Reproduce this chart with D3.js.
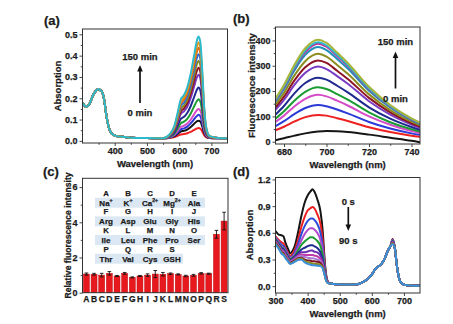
<!DOCTYPE html>
<html>
<head>
<meta charset="utf-8">
<title>Spectra</title>
<script src="https://cdn.jsdelivr.net/npm/d3@7/dist/d3.min.js"></script>
<style>
    body { margin: 0; background: #fff; }
    text { font-family: "Liberation Sans", Arial, Helvetica, sans-serif; font-weight: bold; fill: #1b1b1b; stroke: #1b1b1b; stroke-width: 0.25; }
</style>
</head>
<body>
<svg id="figure" width="453" height="324"></svg>
<script>
// (a) absorption, 0 -> 150 min (UV part is common to all scans)
const wlUvA = [300, 305, 311, 317, 323, 333, 342, 349, 355, 360, 367, 373, 381, 390, 401, 416, 450, 500]
const absUvA = [0.178, 0.168, 0.16, 0.165, 0.178, 0.215, 0.235, 0.243, 0.238, 0.232, 0.195, 0.13, 0.065, 0.035, 0.025, 0.02, 0.015, 0.013]
const wlVisA = [550, 570, 585, 595, 605, 615, 625, 635, 645, 655, 660, 666, 672, 678, 685, 695, 720, 750]
const absVisA = [
    [0.012, 0.014, 0.018, 0.024, 0.030, 0.032, 0.036, 0.042, 0.050, 0.058, 0.060, 0.057, 0.043, 0.026, 0.016, 0.013, 0.012, 0.012],
    [0.012, 0.015, 0.022, 0.033, 0.044, 0.047, 0.053, 0.064, 0.078, 0.092, 0.095, 0.090, 0.066, 0.036, 0.020, 0.014, 0.012, 0.012],
    [0.012, 0.016, 0.025, 0.039, 0.054, 0.059, 0.067, 0.081, 0.099, 0.117, 0.122, 0.115, 0.083, 0.044, 0.022, 0.014, 0.012, 0.012],
    [0.012, 0.017, 0.029, 0.046, 0.065, 0.071, 0.081, 0.098, 0.121, 0.144, 0.150, 0.141, 0.101, 0.052, 0.024, 0.015, 0.013, 0.012],
    [0.012, 0.019, 0.034, 0.057, 0.082, 0.090, 0.103, 0.126, 0.157, 0.187, 0.195, 0.184, 0.130, 0.065, 0.029, 0.016, 0.013, 0.012],
    [0.012, 0.021, 0.041, 0.071, 0.103, 0.113, 0.131, 0.160, 0.200, 0.240, 0.250, 0.235, 0.165, 0.081, 0.033, 0.017, 0.013, 0.012],
    [0.012, 0.023, 0.048, 0.086, 0.126, 0.139, 0.160, 0.198, 0.248, 0.298, 0.310, 0.291, 0.204, 0.098, 0.039, 0.018, 0.013, 0.012],
    [0.012, 0.025, 0.052, 0.094, 0.139, 0.153, 0.177, 0.218, 0.274, 0.329, 0.343, 0.322, 0.225, 0.108, 0.042, 0.019, 0.013, 0.012],
    [0.012, 0.026, 0.056, 0.102, 0.151, 0.166, 0.193, 0.238, 0.299, 0.360, 0.375, 0.352, 0.246, 0.117, 0.045, 0.020, 0.013, 0.012],
    [0.012, 0.027, 0.060, 0.109, 0.163, 0.179, 0.208, 0.257, 0.324, 0.389, 0.406, 0.381, 0.266, 0.126, 0.047, 0.020, 0.014, 0.012],
    [0.012, 0.028, 0.063, 0.117, 0.175, 0.193, 0.224, 0.277, 0.348, 0.419, 0.437, 0.410, 0.286, 0.135, 0.050, 0.021, 0.014, 0.012],
    [0.012, 0.029, 0.066, 0.123, 0.184, 0.203, 0.236, 0.292, 0.368, 0.443, 0.462, 0.434, 0.302, 0.142, 0.053, 0.021, 0.014, 0.012],
    [0.012, 0.030, 0.070, 0.130, 0.195, 0.215, 0.250, 0.310, 0.390, 0.470, 0.490, 0.460, 0.320, 0.150, 0.055, 0.022, 0.014, 0.012]
]
const coloursA = ['#ee2020', '#151515', '#2b3ad6', '#d84bc8', '#1a9c33', '#1f2a8f', '#7a36c0', '#8e1424', '#8c8c1e', '#2f6fd8', '#d2691e', '#f0930e', '#2bb9cc']

// (b) fluorescence, 0 -> 150 min
const wlB = [676, 680, 685, 690, 696, 700, 705, 710, 720, 730, 740, 744]
const fluoB = [
    [6, 14, 24, 33, 40, 42, 41, 38, 28, 16, 4, -2],
    [45, 59, 80, 97, 106, 103, 93, 82, 57, 38, 24, 20],
    [61, 81, 110, 133, 145, 140, 127, 112, 78, 52, 33, 27],
    [78, 103, 140, 169, 185, 179, 162, 143, 100, 67, 42, 34],
    [91, 120, 163, 197, 215, 208, 188, 166, 116, 77, 49, 40],
    [107, 141, 192, 232, 253, 245, 221, 195, 136, 91, 58, 47],
    [126, 165, 225, 272, 297, 287, 259, 229, 160, 107, 68, 55],
    [136, 178, 243, 294, 321, 311, 280, 248, 173, 116, 73, 60],
    [147, 193, 263, 318, 347, 336, 303, 268, 187, 125, 79, 65],
    [159, 208, 283, 343, 374, 362, 327, 289, 201, 135, 85, 70],
    [164, 215, 293, 354, 387, 375, 338, 299, 208, 139, 88, 72],
    [167, 219, 297, 360, 393, 380, 343, 303, 211, 141, 90, 73],
    [171, 224, 305, 369, 403, 390, 352, 311, 217, 145, 92, 75]
]
const coloursB = ['#151515', '#ee2020', '#2b3ad6', '#d64cc8', '#1a9c33', '#1f2a8f', '#7a3cc4', '#8e1424', '#8c8c1e', '#1f8fb8', '#c62a9a', '#2bb9cc', '#a8b43a']

// (c) selectivity
const analytes = ['A', 'B', 'C', 'D', 'E', 'F', 'G', 'H', 'I', 'J', 'K', 'L', 'M', 'N', 'O', 'P', 'Q', 'R', 'S']
const relIntensity = [1.06, 1.05, 1.0, 1.1, 0.95, 1.1, 0.87, 0.95, 1.0, 1.06, 1.05, 1.08, 1.04, 0.95, 0.99, 1.1, 1.08, 3.32, 4.07]
const relError = [0.06, 0.05, 0.1, 0.1, 0.03, 0.05, 0.03, 0.03, 0.07, 0.2, 0.1, 0.04, 0.03, 0.04, 0.05, 0.04, 0.03, 0.22, 0.5]
const keyLetters = [['A', 'B', 'C', 'D', 'E'], ['F', 'G', 'H', 'I', 'J'], ['K', 'L', 'M', 'N', 'O'], ['P', 'Q', 'R', 'S']]
const keyNames = [['Na+', 'K+', 'Ca2+', 'Mg2+', 'Ala'], ['Arg', 'Asp', 'Glu', 'Gly', 'His'], ['Ile', 'Leu', 'Phe', 'Pro', 'Ser'], ['Thr', 'Val', 'Cys', 'GSH']]

// (d) absorption, 0 -> 90 s
const wlUvD = [300, 310, 320, 325, 330, 340, 345, 350, 360, 370, 380, 390, 400, 410, 415, 420, 430, 440, 447, 453, 458, 463, 470]
const absUvD = [
    [0.62, 0.58, 0.57, 0.56, 0.50, 0.41, 0.37, 0.38, 0.45, 0.60, 0.78, 0.93, 1.02, 1.07, 1.09, 1.07, 0.98, 0.84, 0.62, 0.30, 0.12, 0.05, 0.03],
    [0.56, 0.52, 0.49, 0.48, 0.44, 0.37, 0.34, 0.35, 0.41, 0.52, 0.66, 0.77, 0.85, 0.88, 0.89, 0.88, 0.81, 0.70, 0.52, 0.26, 0.11, 0.05, 0.03],
    [0.55, 0.50, 0.46, 0.45, 0.42, 0.35, 0.32, 0.33, 0.38, 0.47, 0.58, 0.67, 0.73, 0.76, 0.76, 0.75, 0.70, 0.60, 0.45, 0.23, 0.10, 0.045, 0.03],
    [0.54, 0.49, 0.44, 0.43, 0.40, 0.34, 0.31, 0.32, 0.36, 0.43, 0.51, 0.58, 0.63, 0.65, 0.65, 0.64, 0.60, 0.52, 0.40, 0.21, 0.09, 0.045, 0.03],
    [0.53, 0.48, 0.43, 0.42, 0.39, 0.33, 0.30, 0.31, 0.34, 0.40, 0.46, 0.50, 0.53, 0.55, 0.55, 0.54, 0.51, 0.45, 0.35, 0.19, 0.085, 0.04, 0.03],
    [0.52, 0.47, 0.42, 0.41, 0.38, 0.32, 0.29, 0.30, 0.33, 0.37, 0.41, 0.43, 0.45, 0.46, 0.46, 0.45, 0.43, 0.38, 0.30, 0.17, 0.08, 0.04, 0.03],
    [0.51, 0.46, 0.41, 0.40, 0.37, 0.31, 0.28, 0.29, 0.32, 0.35, 0.38, 0.38, 0.39, 0.40, 0.40, 0.39, 0.38, 0.34, 0.27, 0.16, 0.075, 0.04, 0.03],
    [0.50, 0.45, 0.40, 0.39, 0.36, 0.30, 0.275, 0.285, 0.31, 0.34, 0.355, 0.35, 0.35, 0.35, 0.35, 0.345, 0.335, 0.305, 0.25, 0.15, 0.07, 0.04, 0.03],
    [0.50, 0.45, 0.39, 0.38, 0.35, 0.295, 0.27, 0.28, 0.30, 0.33, 0.34, 0.33, 0.32, 0.315, 0.315, 0.31, 0.30, 0.28, 0.23, 0.14, 0.065, 0.038, 0.03],
    [0.49, 0.44, 0.38, 0.37, 0.34, 0.285, 0.26, 0.27, 0.29, 0.315, 0.32, 0.30, 0.29, 0.285, 0.28, 0.28, 0.275, 0.26, 0.22, 0.135, 0.062, 0.036, 0.03],
    [0.48, 0.43, 0.37, 0.36, 0.33, 0.28, 0.255, 0.26, 0.28, 0.305, 0.31, 0.285, 0.27, 0.26, 0.255, 0.25, 0.25, 0.24, 0.21, 0.13, 0.06, 0.035, 0.03],
    [0.47, 0.42, 0.36, 0.35, 0.32, 0.275, 0.25, 0.255, 0.275, 0.295, 0.30, 0.27, 0.25, 0.24, 0.235, 0.235, 0.23, 0.225, 0.20, 0.125, 0.058, 0.034, 0.03]
]
const qPeakWlD = 665
const qPeakD = [0.53, 0.525, 0.52, 0.515, 0.51, 0.505, 0.5, 0.495, 0.49, 0.485, 0.48, 0.47]
const wlTailD = [480, 500, 550, 575, 590, 600, 610, 620, 630, 640, 650, 658, 672, 677, 683, 688, 698, 710, 730, 750]
const absTailD = [0.025, 0.02, 0.02, 0.05, 0.09, 0.13, 0.19, 0.22, 0.25, 0.31, 0.40, 0.45, 0.42, 0.26, 0.12, 0.056, 0.02, 0.01, 0.005, 0.005]
const coloursD = ['#151515', '#ee2020', '#2d4fd8', '#b048d0', '#1a9c33', '#1f2a8f', '#6a2cb0', '#c03aa8', '#a77ad8', '#7c1626', '#8c8c1e', '#3a8fdc']

// tick values
const xTicksA = [400, 500, 600, 700]
const xMinorA = [350, 450, 550, 650]
const yTicksA = [0, 0.1, 0.2, 0.3, 0.4, 0.5]
const yMinorA = [0.05, 0.15, 0.25, 0.35, 0.45]
const xTicksB = [680, 700, 720, 740]
const xMinorB = [690, 710, 730]
const yTicksB = [0, 100, 200, 300, 400]
const yMinorB = [50, 150, 250, 350, 450]
const yTicksC = [0, 2, 4, 6]
const yMinorC = [1, 3, 5]
const xTicksD = [300, 400, 500, 600, 700]
const xMinorD = [350, 450, 550, 650]
const yTicksD = [0, 0.3, 0.6, 0.9, 1.2]
const yMinorD = [0.15, 0.45, 0.75, 1.05]

let svg = d3.select('#figure')
svg.append('rect').attr('width', 453).attr('height', 324).attr('fill', '#fff')

let xA = d3.scaleLinear().domain([300, 750]).range([82.5, 227.5])
let yA = d3.scaleLinear().domain([-0.01, 0.525]).range([143, 29])
let xB = d3.scaleLinear().domain([676, 744]).range([275.5, 420])
let yB = d3.scaleLinear().domain([-9, 453]).range([144, 27])
let xC = d3.scaleBand().domain(analytes).range([82.5, 228]).paddingInner(0.22).paddingOuter(0.12)
let yC = d3.scaleLinear().domain([0, 6.5]).range([292.7, 178.3])
let xD = d3.scaleLinear().domain([300, 750]).range([275.5, 420])
let yD = d3.scaleLinear().domain([-0.077, 1.222]).range([293, 177.5])

function clip(id, x, y) {
    let [x0, x1] = x.range()
    let [y0, y1] = y.range()
    svg.append('clipPath').attr('id', id)
        .append('rect')
        .attr('x', x0).attr('y', y1)
        .attr('width', x1 - x0).attr('height', y0 - y1)
}

function styleAxis(g) {
    g.attr('color', '#333').attr('font-size', 9)
    g.selectAll('.domain').remove()
    g.selectAll('line').attr('stroke-width', 0.9)
}

function axes(x, y, xMajor, xMinor, yMajor, yMinor, yFmt) {
    let [x0, x1] = x.range()
    let [y0, y1] = y.range()
    if (xMajor) {
        let gx = svg.append('g').attr('transform', `translate(0,${y0})`)
        gx.call(d3.axisBottom(x).tickValues(xMajor).tickSize(3).tickPadding(2).tickFormat(d3.format('d')))
        gx.append('g').call(d3.axisBottom(x).tickValues(xMinor).tickSize(1.8).tickFormat(''))
        styleAxis(gx)
    }
    let gy = svg.append('g').attr('transform', `translate(${x0},0)`)
    gy.call(d3.axisLeft(y).tickValues(yMajor).tickSize(3).tickPadding(2).tickFormat(yFmt))
    gy.append('g').call(d3.axisLeft(y).tickValues(yMinor).tickSize(1.8).tickFormat(''))
    styleAxis(gy)
    svg.append('rect')
        .attr('x', x0).attr('y', y1)
        .attr('width', x1 - x0).attr('height', y0 - y1)
        .attr('fill', 'none')
        .attr('stroke', '#333')
        .attr('stroke-width', 1)
}

function spectra(id, x, y, series, colours, width) {
    let path = d3.line()
        .x((d) => { return x(d[0]) })
        .y((d) => { return y(d[1]) })
        .curve(d3.curveMonotoneX)
    svg.append('g')
        .attr('clip-path', `url(#${id})`)
        .selectAll('path')
        .data(series)
        .enter()
        .append('path')
        .attr('d', path)
        .attr('fill', 'none')
        .attr('stroke', (d, i) => { return colours[i] })
        .attr('stroke-width', width)
        .attr('stroke-linejoin', 'round')
}

function text(str, x, y, size, anchor) {
    return svg.append('text')
        .attr('x', x).attr('y', y)
        .attr('font-size', size)
        .attr('text-anchor', anchor || 'middle')
        .text(str)
}

function yTitle(str, x, yMid, size) {
    svg.append('text')
        .attr('transform', `translate(${x},${yMid}) rotate(-90)`)
        .attr('font-size', size)
        .attr('text-anchor', 'middle')
        .text(str)
}

function arrow(x, yFrom, yTo) {
    let dir = yTo < yFrom ? -1 : 1
    svg.append('line')
        .attr('x1', x).attr('x2', x)
        .attr('y1', yFrom).attr('y2', yTo - dir * 5)
        .attr('stroke', '#111')
        .attr('stroke-width', 1.7)
    svg.append('path')
        .attr('d', `M${x},${yTo} L${x - 2.8},${yTo - dir * 6.5} L${x + 2.8},${yTo - dir * 6.5} Z`)
        .attr('fill', '#111')
}

// ---- (a)
clip('clipA', xA, yA)
let seriesA = absVisA.map((vis) => {
    return wlUvA.map((w, i) => [w, absUvA[i]]).concat(wlVisA.map((w, i) => [w, vis[i]]))
})
spectra('clipA', xA, yA, seriesA, coloursA, 2)
axes(xA, yA, xTicksA, xMinorA, yTicksA, yMinorA, d3.format('.1f'))
text('(a)', 44, 24.5, 13, 'start')
text('Wavelength (nm)', 155, 167, 9.5)
yTitle('Absorption', 60.6, 86, 9.5)
text('150 min', 140, 59.5, 9.5)
arrow(140, 103, 65)
text('0 min', 140, 116, 9.5)

// ---- (b)
clip('clipB', xB, yB)
let seriesB = fluoB.map((vals) => {
    return wlB.map((w, i) => [w, vals[i]])
})
spectra('clipB', xB, yB, seriesB, coloursB, 2)
axes(xB, yB, xTicksB, xMinorB, yTicksB, yMinorB, d3.format('d'))
text('(b)', 233, 23, 13, 'start')
text('Wavelength (nm)', 347.7, 168, 9.5)
yTitle('Fluorescence intensity', 255, 85.5, 9.7)
text('150 min', 395.5, 45, 9.5)
arrow(395.5, 88.5, 51.5)
text('0 min', 395.5, 101.7, 9.5)

// ---- (c)
// key of analytes
let colKey = d3.scalePoint().domain([0, 1, 2, 3, 4]).range([106, 194])
let rowKey = d3.scalePoint().domain([0, 1, 2, 3]).range([193, 249])
keyLetters.forEach((row, r) => {
    let yl = rowKey(r)
    let yn = yl + 9.7
    svg.append('rect')
        .attr('x', colKey(0) - 11)
        .attr('y', yn - 5)
        .attr('width', colKey(row.length - 1) - colKey(0) + 22)
        .attr('height', 10)
        .attr('fill', '#dbe8f4')
    row.forEach((ch, c) => {
        text(ch, colKey(c), yl + 2.8, 7.8)
        let m = keyNames[r][c].match(/^([A-Za-z]+)(\d?\+)?$/)
        let t = text(m[1], colKey(c), yn + 2.8, 8)
        if (m[2]) {
            t.append('tspan').attr('font-size', 5.2).attr('dy', -3.2).text(m[2])
        }
    })
})

svg.selectAll('rect.bar')
    .data(analytes)
    .enter()
    .append('rect')
    .attr('class', 'bar')
    .attr('x', (d) => { return xC(d) })
    .attr('y', (d, i) => { return yC(relIntensity[i]) })
    .attr('width', xC.bandwidth())
    .attr('height', (d, i) => { return yC(0) - yC(relIntensity[i]) })
    .attr('fill', '#e8191e')
    .attr('stroke', '#c00d12')
    .attr('stroke-width', 0.5)

let errG = svg.append('g').attr('stroke', '#111').attr('stroke-width', 0.9)
analytes.forEach((d, i) => {
    let cx = xC(d) + xC.bandwidth() / 2
    let lo = yC(relIntensity[i] - relError[i])
    let hi = yC(relIntensity[i] + relError[i])
    errG.append('line').attr('x1', cx).attr('x2', cx).attr('y1', lo).attr('y2', hi)
    errG.append('line').attr('x1', cx - 1.8).attr('x2', cx + 1.8).attr('y1', lo).attr('y2', lo)
    errG.append('line').attr('x1', cx - 1.8).attr('x2', cx + 1.8).attr('y1', hi).attr('y2', hi)
})

let gxC = svg.append('g').attr('transform', `translate(0,${yC(0)})`)
gxC.call(d3.axisBottom(xC).tickSize(0).tickPadding(3.5))
styleAxis(gxC)
gxC.attr('font-size', 8.5)
axes(xC, yC, null, null, yTicksC, yMinorC, d3.format('d'))
text('(c)', 43, 176, 13, 'start')
yTitle('Relative fluorescence intensity', 71.3, 235.5, 8.6)

// ---- (d)
clip('clipD', xD, yD)
let seriesD = absUvD.map((uv, k) => {
    return wlUvD.map((w, i) => [w, uv[i]])
        .concat(wlTailD.map((w, i) => [w, absTailD[i]]))
        .concat([[qPeakWlD, qPeakD[k]]])
        .sort((a, b) => a[0] - b[0])
})
spectra('clipD', xD, yD, seriesD, coloursD, 2)
axes(xD, yD, xTicksD, xMinorD, yTicksD, yMinorD, d3.format('.1f'))
text('(d)', 233, 176, 13, 'start')
text('Wavelength (nm)', 347.7, 317, 9.5)
yTitle('Absorption', 253.3, 235, 9.5)
text('0 s', 348.3, 205, 9.5)
arrow(348.3, 207, 231)
text('90 s', 348.3, 243.5, 9.5)
</script>
</body>
</html>
